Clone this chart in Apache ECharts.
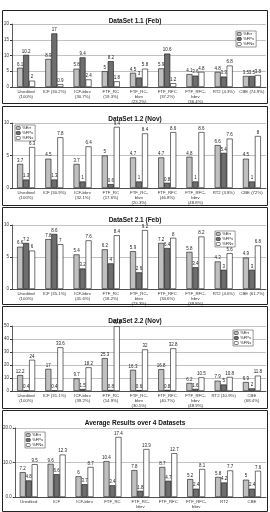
<!DOCTYPE html>
<html>
<head>
<meta charset="utf-8">
<script src="https://cdn.jsdelivr.net/npm/echarts@6/dist/echarts.min.js"></script>
<style>
html, body { margin: 0; padding: 0; background: #fff; }
#chart { width: 270px; height: 512px; }
</style>
</head>
<body>
<div id="chart"></div>
<script>
const seriesNames = ['%Err', '%FPs', '%FNs']

const titles = ['DataSet 1.1 (Feb)', 'DataSet 1.2 (Nov)', 'DataSet 2.1 (Feb)', 'DataSet 2.2 (Nov)', 'Average Results over 4 Datasets']

const cats11 = ['Unedited\n(100%)', 'ICF (30.2%)', 'ICF-bbrv\n(30.7%)', 'FTF_RC\n(19.3%)', 'FTF_RC-\nbbrv\n(23.2%)', 'FTF_RFC\n(37.2%)', 'FTF_RFC-\nbbrv\n(36.4%)', 'RT2 (4.3%)', 'CBE (74.9%)']
const err11 = [6.1, 8.9, 5.8, 5, 4.5, 5.9, 4.1, 4.8, 3.5]
const fps11 = [10.2, 17, 9.4, 8.2, 3, 10.6, 3.6, 3.3, 3.5]
const fns11 = [2, 0.9, 2.4, 1.8, 5.8, 1.2, 4.8, 6.8, 3.8]

const cats12 = ['Unedited\n(100%)', 'ICF (30.9%)', 'ICF-bbrv\n(32.1%)', 'FTF_RC\n(17.6%)', 'FTF_RC-\nbbrv\n(20.3%)', 'FTF_RFC\n(46.8%)', 'FTF_RFC-\nbbrv\n(48.8%)', 'RT2 (3.8%)', 'CBE (72%)']
const err12 = [3.7, 4.5, 3.7, 5, 4.7, 4.7, 4.8, 6.6, 4.5]
const fps12 = [1.3, 1.3, 1, 0.6, 1, 0.8, 1, 5.4, 1]
const fns12 = [6.3, 7.8, 6.4, 9.4, 8.4, 8.6, 8.6, 7.6, 8]

const cats21 = ['Unedited\n(100%)', 'ICF (35.1%)', 'ICF-bbrv\n(41.6%)', 'FTF_RC\n(18.2%)', 'FTF_RC-\nbbrv\n(23.3%)', 'FTF_RFC\n(34.6%)', 'FTF_RFC-\nbbrv\n(38.8%)', 'RT2 (4.6%)', 'CBE (61.7%)']
const err21 = [6.6, 7.8, 5.4, 6.2, 5.9, 7.2, 5.8, 4.3, 4.9]
const fps21 = [7.2, 8.6, 3.2, 4, 2.6, 6.4, 3.4, 3, 3]
const fns21 = [6, 7, 7.6, 8.4, 9.2, 8, 8.2, 5.6, 6.8]

const cats22 = ['Unedited\n(100%)', 'ICF (31.1%)', 'ICF-bbrv\n(39.2%)', 'FTF_RC\n(14.9%)', 'FTF_RC-\nbbrv\n(30.5%)', 'FTF_RFC\n(40.7%)', 'FTF_RFC-\nbbrv\n(48.9%)', 'RT2 (10.9%)', 'CBE\n(68.4%)']
const err22 = [12.2, 17, 9.7, 25.3, 16.3, 16.8, 6.2, 7.9, 6.9]
const fps22 = [0.4, 0.4, 1.5, 0.8, 0.6, 0.8, 1.6, 5, 2]
const fns22 = [24, 33.6, 18.2, 49.8, 32, 32.8, 10.5, 10.8, 11.8]

const catsAvg = ['Unedited', 'ICF', 'ICF-bbrv', 'FTF_RC', 'FTF_RC-\nbbrv', 'FTF_RFC', 'FTF_RFC-\nbbrv', 'RT2', 'CBE']
const errAvg = [7.2, 9.6, 6.0, 10.4, 7.8, 8.7, 5.2, 5.8, 5.0]
const fpsAvg = [4.8, 6.6, 3.7, 3.4, 1.8, 4.7, 2.4, 4.2, 2.4]
const fnsAvg = [9.5, 12.3, 8.7, 17.4, 13.9, 12.7, 8.1, 7.7, 7.6]

const yMax = [20, 10, 10, 50, 20]
const yStep = [5, 5, 5, 10, 10]

const panels = [
    {cats: cats11, data: [err11, fps11, fns11]},
    {cats: cats12, data: [err12, fps12, fns12]},
    {cats: cats21, data: [err21, fps21, fns21]},
    {cats: cats22, data: [err22, fps22, fns22]},
    {cats: catsAvg, data: [errAvg, fpsAvg, fnsAvg]}
]

// layout of each boxed panel
const boxes = [
    {top: 10, bottom: 103, title: 13, gTop: 24, gH: 63, legend: {left: 236, top: 31}},
    {top: 106, bottom: 205, title: 111, gTop: 123, gH: 65, legend: {left: 15, top: 125}},
    {top: 207, bottom: 304, title: 212, gTop: 225, gH: 64, legend: {left: 215, top: 231}},
    {top: 306, bottom: 408, title: 313, gTop: 326, gH: 65, legend: {left: 233, top: 330}},
    {top: 410, bottom: 511, title: 415, gTop: 428, gH: 69, legend: {left: 25, top: 432}}
]

const colors = ['#c0c0c0', '#6e6e6e', '#ffffff']
const font = 'Liberation Sans'

const chart = echarts.init(document.getElementById('chart'))

const option = {
    animation: false,
    textStyle: {fontFamily: font},
    title: [],
    legend: [],
    grid: [],
    xAxis: [],
    yAxis: [],
    series: [],
    graphic: []
}

panels.forEach((p, i) => {
    const b = boxes[i]
    option.graphic.push({
        type: 'rect',
        shape: {x: 2.5, y: b.top + 0.5, width: 265, height: b.bottom - b.top},
        style: {fill: 'none', stroke: '#222', lineWidth: 1},
        silent: true
    })
    option.title.push({
        text: titles[i],
        left: 'center',
        top: b.title,
        textStyle: {fontSize: 6.5, fontWeight: 'bold', color: '#111', fontFamily: font}
    })
    option.legend.push({
        data: seriesNames,
        orient: 'vertical',
        left: b.legend.left,
        top: b.legend.top,
        itemWidth: 4,
        itemHeight: 3,
        itemGap: 1,
        padding: [1, 2, 1, 1],
        borderColor: '#333',
        borderWidth: 0.5,
        backgroundColor: '#fff',
        itemStyle: {borderColor: '#000', borderWidth: 0.5},
        textStyle: {fontSize: 4, color: '#222', padding: [0, 0, 0, -3]},
        selectedMode: false
    })
    option.grid.push({left: 12, right: 4, top: b.gTop, height: b.gH})
    option.xAxis.push({
        type: 'category',
        gridIndex: i,
        data: p.cats,
        axisLine: {lineStyle: {color: '#333', width: 0.8}},
        axisTick: {show: false},
        axisLabel: {fontSize: 4.3, color: '#333', interval: 0, lineHeight: 4.6, margin: 3}
    })
    option.yAxis.push({
        type: 'value',
        gridIndex: i,
        min: 0,
        max: yMax[i],
        interval: yStep[i],
        axisLine: {show: true, lineStyle: {color: '#333', width: 0.8}},
        axisTick: {show: true, length: 2, lineStyle: {color: '#333'}},
        splitLine: {show: true, lineStyle: {color: '#999', width: 0.6}},
        axisLabel: {
            fontSize: 4.5,
            color: '#333',
            margin: 3,
            formatter: v => i === 4 ? v.toFixed(1) : v
        }
    })
    p.data.forEach((vals, k) => {
        option.series.push({
            name: seriesNames[k],
            type: 'bar',
            xAxisIndex: i,
            yAxisIndex: i,
            data: vals,
            barWidth: 6,
            barGap: '0%',
            itemStyle: {color: colors[k], borderColor: '#111', borderWidth: 0.6},
            label: {show: true, position: 'top', distance: 1, fontSize: 4.5, color: '#222'}
        })
    })
})

chart.setOption(option)
</script>
</body>
</html>
